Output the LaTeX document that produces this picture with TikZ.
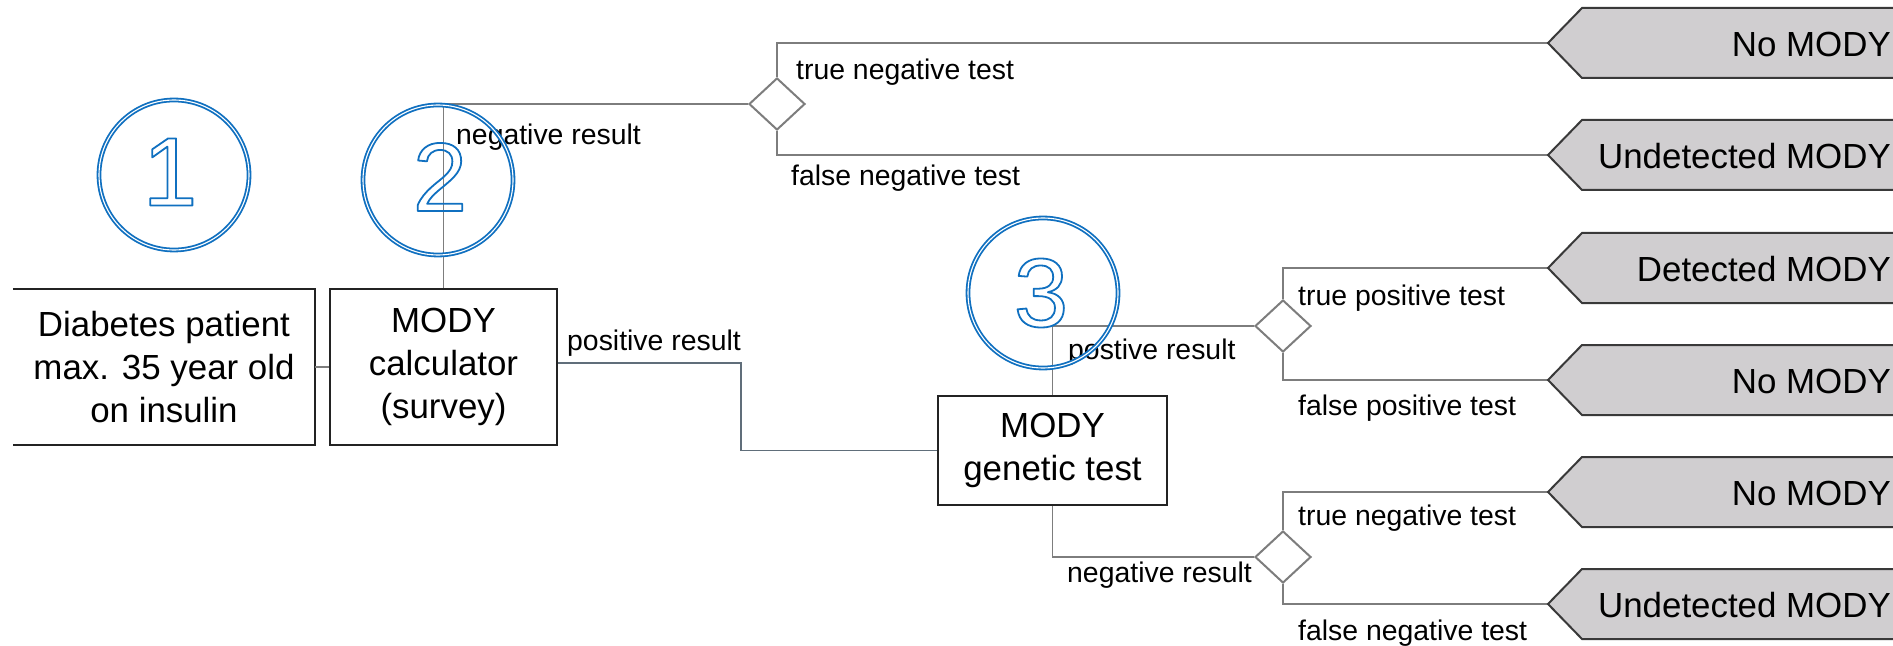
\documentclass[tikz,border=0pt]{standalone}
\usepackage{fontspec}
\setmainfont{Liberation Sans}
\usetikzlibrary{shapes.geometric}
\definecolor{cblue}{RGB}{16,112,192}
\definecolor{lgray}{RGB}{125,125,125}
\definecolor{tfill}{RGB}{208,206,208}
\definecolor{bdark}{RGB}{35,35,35}
\definecolor{posline}{RGB}{96,110,122}
\newcommand{\hollowtxt}[1]{\special{pdf:literal direct 1 Tr 1.8 w 1 j}#1\special{pdf:literal direct 0 Tr}}
\begin{document}
\begin{tikzpicture}[x=1bp,y=-1bp,
  boxnode/.style={align=center, inner sep=0pt, font=\fontsize{35}{43}\selectfont},
  boxline/.style={draw=bdark, line width=2bp},
  conn/.style={draw=lgray, line width=1.8bp},
  posconn/.style={draw=posline, line width=1.8bp},
  decision/.style={diamond, draw=lgray, line width=2bp, fill=white, minimum width=56bp, minimum height=52bp, inner sep=0pt},
  stepcircle/.style={circle, draw=cblue, double=white, line width=1.8bp, double distance=1.1bp, minimum size=150bp, inner sep=0pt},
  numeral/.style={text=cblue, inner sep=0pt, font=\fontsize{98}{98}\selectfont},
  lbl/.style={anchor=west, inner sep=0pt, font=\fontsize{28.5}{30}\selectfont},
  termshape/.style={draw=bdark!90, line width=2bp, fill=tfill, line join=miter},
  termtext/.style={anchor=east, inner sep=0pt, font=\fontsize{35}{40}\selectfont}
]
\useasboundingbox (0,0) rectangle (1893,646);
\clip (0,0) rectangle (1893,646);

% boxes
\node[boxnode, minimum width=302bp, minimum height=156bp] (b1) at (164,367) {Diabetes patient\\max. 35 year old\\on insulin};
\node[boxnode, boxline, minimum width=227bp, minimum height=156bp] (b2) at (443.5,367) {MODY\\calculator\\(survey)};
\node[boxnode, boxline, minimum width=229bp, minimum height=109bp] (b3) at (1052.5,450.5) {MODY\\genetic test};
\draw[boxline] (b1.north west) -- (b1.north east) -- (b1.south east) -- (b1.south west);

% decisions
\node[decision] (d1) at (777,104) {};
\node[decision] (d2) at (1283,326) {};
\node[decision] (d3) at (1283,557) {};

% terminal tips
\coordinate (t1) at (1548,43);
\coordinate (t2) at (1548,155);
\coordinate (t3) at (1548,268);
\coordinate (t4) at (1548,380);
\coordinate (t5) at (1548,492);
\coordinate (t6) at (1548,604);
\coordinate (pbend) at (741,363);

% connectors
\draw[conn] (b1.east) -- (b2.west);
\draw[conn] (b2.north) |- (d1.west);
\draw[conn] (d1.north) |- (t1);
\draw[conn] (d1.south) |- (t2);
\draw[posconn] (b2.east |- pbend) -- (pbend) |- (b3.west);
\draw[conn] (b3.north) |- (d2.west);
\draw[conn] (b3.south) |- (d3.west);
\draw[conn] (d2.north) |- (t3);
\draw[conn] (d2.south) |- (t4);
\draw[conn] (d3.north) |- (t5);
\draw[conn] (d3.south) |- (t6);

% terminals
\foreach \t in {t1,t2,t3,t4,t5,t6}{
  \draw[termshape] (\t) -- ++(34,-35) -- ++(340,0) -- ++(0,70) -- ++(-340,0) -- cycle;
}
\node[termtext] (x1) at (1891,44) {No MODY};
\node[termtext] (x2) at (1891,156) {Undetected MODY};
\node[termtext] (x3) at (1891,269) {Detected MODY};
\node[termtext] (x4) at (1891,381) {No MODY};
\node[termtext] (x5) at (1891,493) {No MODY};
\node[termtext] (x6) at (1891,605) {Undetected MODY};

% labels
\node[lbl] (l1) at (456,137) {negative result};
\node[lbl] (l2) at (796,72) {true negative test};
\node[lbl] (l3) at (791,178) {false negative test};
\node[lbl] (l4) at (567,343) {positive result};
\node[lbl] (l5) at (1068,352) {postive result};
\node[lbl] (l6) at (1298,298) {true positive test};
\node[lbl] (l7) at (1298,408) {false positive test};
\node[lbl] (l8) at (1298,518) {true negative test};
\node[lbl] (l9) at (1067,575) {negative result};
\node[lbl] (l10) at (1298,633) {false negative test};

% step circles
\node[stepcircle] (c1) at (174,175) {};
\node[stepcircle] (c2) at (438,180) {};
\node[stepcircle] (c3) at (1043,293) {};
\node[numeral] (n1) at (170,172) {\hollowtxt{1}};
\node[numeral] (n2) at (440,177) {\hollowtxt{2}};
\node[numeral] (n3) at (1041,293) {\hollowtxt{3}};
\end{tikzpicture}
\end{document}
